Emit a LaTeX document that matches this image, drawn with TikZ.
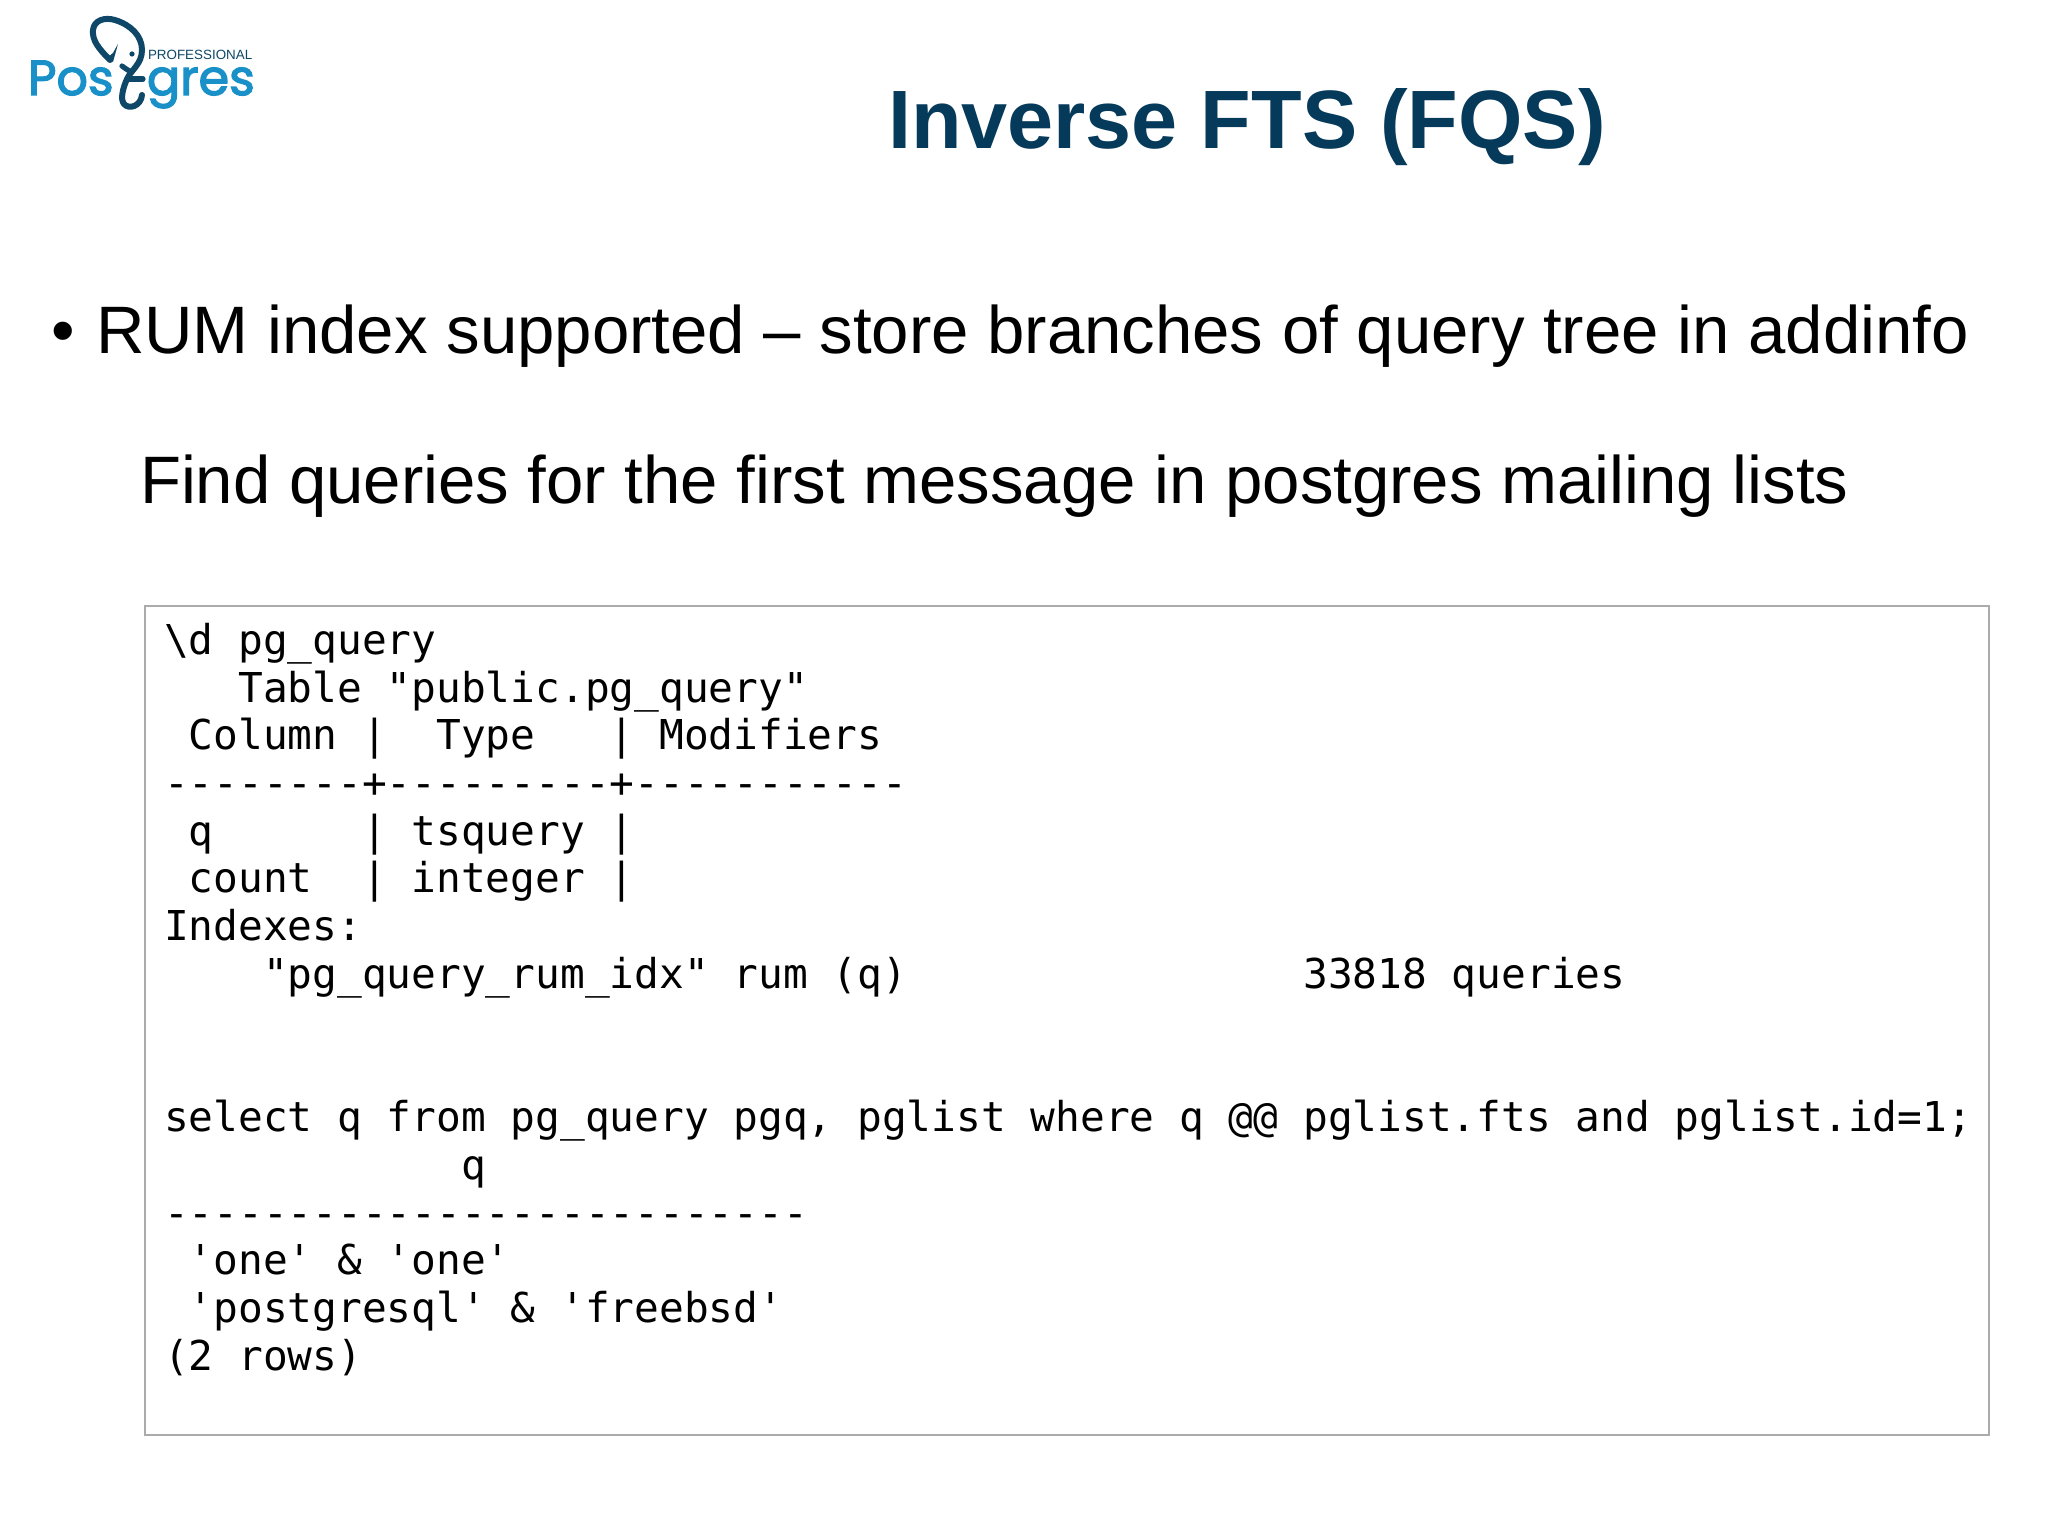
\documentclass[tikz,border=0pt]{standalone}
\usepackage{fontspec}
\setmainfont{Liberation Sans}
\newfontfamily\codefont{DejaVu Sans Mono}
\newfontfamily\logofont{Poppins}[FakeBold=2.6]
\definecolor{titleblue}{HTML}{063A5A}
\definecolor{logoblue}{HTML}{1A90C8}
\definecolor{logodark}{HTML}{0E4767}
\tikzset{
  txt/.style={anchor=base west,inner sep=0pt,outer sep=0pt},
  bodytext/.style={txt,font=\fontsize{33.56pt}{38pt}\selectfont,text=black},
  codebox/.style={draw=black!33,fill=white,line width=0.6pt,inner sep=0pt,outer sep=0pt,anchor=north west,minimum width=922pt,minimum height=414.5pt},
  codetext/.style={anchor=north west,inner sep=0pt,outer sep=0pt,align=left,text=black,font=\codefont\fontsize{20.57pt}{23.87pt}\selectfont},
  logotext/.style={txt,text=logoblue,font=\logofont\fontsize{24.6pt}{30pt}\selectfont},
  trunk/.style={draw=logodark,line cap=round,line join=round}
}
\begin{document}
\begin{tikzpicture}[x=0.5pt,y=-0.5pt]
\useasboundingbox (0,0) rectangle (2048,1535);
\fill[white] (0,0) rectangle (2048,1535);
% logo
\node[logotext] (lgA) at (28,95) {Pos};
\node[logotext] (lgB) at (147,95) {gres};
\node[txt,text=logodark,font=\fontsize{6.7pt}{9pt}\selectfont] (lgC) at (148,60) {PROFESSIONAL};
\draw[trunk,line width=3pt] (110,60) .. controls (98,48) and (92,40) .. (93,30) .. controls (94,20) and (105,17) .. (115,20) .. controls (131,25) and (142,36) .. (142,50) .. controls (142,64) and (131,70) .. (127,79) .. controls (123,88) and (120,99) .. (124,104) .. controls (129,110) and (141,106) .. (142,95);
\draw[trunk,line width=2.6pt] (122,66) .. controls (126,69) and (129,71) .. (132,72);
\draw[trunk,line width=2.6pt] (128,79) -- (143,79);
\fill[logodark] (118,44) -- (113,62) -- (107,58) -- (113,53) -- cycle;
\fill[logodark] (132,54) circle (2.6);
% title
\node[txt,text=titleblue,font=\bfseries\fontsize{41.4pt}{48pt}\selectfont] (title) at (888,148.5) {Inverse FTS (FQS)};
% bullet and text
\node[bodytext] (bullet) at (51,353) {•};
\node[bodytext] (line1) at (96,353) {RUM index supported – store branches of query tree in addinfo};
\node[bodytext] (line2) at (140,503) {Find queries for the first message in postgres mailing lists};
% code box
\node[codebox] (box) at (145,606) {};
\node[codetext] (code) at (164,623) {%
\textbackslash d pg\_query\\
~~~Table "public.pg\_query"\\
~Column~|~~Type~~~|~Modifiers\\
--------+---------+-----------\\
~q~~~~~~|~tsquery~|\\
~count~~|~integer~|\\
Indexes:\\
~~~~"pg\_query\_rum\_idx"~rum~(q)~~~~~~~~~~~~~~~~33818~queries\\
~\\
~\\
select q from pg\_query pgq, pglist where q @@ pglist.fts and pglist.id=1;\\
~~~~~~~~~~~~q\\
--------------------------\\
~'one'~\&~'one'\\
~'postgresql'~\&~'freebsd'\\
(2~rows)};
\end{tikzpicture}
\end{document}
